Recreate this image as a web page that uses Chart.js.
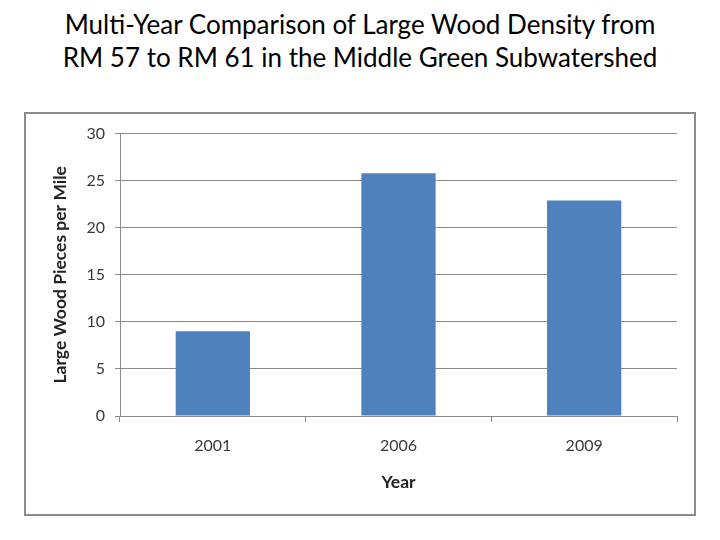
<!DOCTYPE html>
<html>
<head>
<meta charset="utf-8">
<script src="https://cdn.jsdelivr.net/npm/chart.js@4"></script>
<style>
  html, body { margin: 0; padding: 0; background: #fff; }
  body { width: 720px; height: 540px; position: relative; overflow: hidden; }
  #title { position: absolute; left: 0; top: 8px; width: 720px; text-align: center;
           font-family: Lato, "Open Sans", sans-serif; font-size: 26px; line-height: 33px; color: #000; }
  #frame { position: absolute; left: 24px; top: 112px; width: 668px; height: 400px;
           border: 2px solid #8c8c8c; background: #fff; }
  #frame canvas { display: block; }
</style>
</head>
<body>
<div id="title">Multi-Year Comparison of Large Wood Density from<br>RM 57 to RM 61 in the Middle Green Subwatershed</div>
<div id="frame"><canvas id="c" width="668" height="400"></canvas></div>
<script>
const categories = ["2001", "2006", "2009"];
const woodDensity = [9.0, 25.8, 22.9];
const yTicks = [0, 5, 10, 15, 20, 25, 30];
const xAxisTitle = "Year";
const yAxisTitle = "Large Wood Pieces per Mile";

const gridColor = "#8a8a8a";
const tickFont = { family: "Lato, 'Open Sans', sans-serif", size: 16 };
const titleFont = { family: "Lato, 'Open Sans', sans-serif", size: 17.5, weight: "bold" };

new Chart(document.getElementById("c"), {
  type: "bar",
  data: {
    labels: categories,
    datasets: [{
      data: woodDensity,
      backgroundColor: "#4f81bd",
      borderWidth: 0,
      barPercentage: 0.4,
      categoryPercentage: 1.0
    }]
  },
  options: {
    responsive: false,
    animation: false,
    devicePixelRatio: 1,
    layout: { padding: { left: 0, right: 17, top: 19, bottom: 0 } },
    plugins: { legend: { display: false }, tooltip: { enabled: false }, title: { display: false } },
    scales: {
      x: {
        grid: { display: true, drawOnChartArea: false, drawTicks: true, tickLength: 6, color: gridColor, offset: true },
        border: { display: true, color: gridColor, width: 1 },
        ticks: { font: tickFont, color: "#3a3a3a", padding: 14, maxRotation: 0 },
        title: { display: true, text: xAxisTitle, font: titleFont, color: "#222", padding: { top: 0, bottom: 21 } },
        afterFit: (s) => { s.height = 98; }
      },
      y: {
        min: 0, max: 30,
        afterBuildTicks: (s) => { s.ticks = yTicks.map(v => ({ value: v })); },
        grid: { color: gridColor, tickLength: 5, drawTicks: true },
        border: { display: true, color: gridColor, width: 1 },
        ticks: { font: tickFont, color: "#3a3a3a", padding: 10 },
        title: { display: true, text: yAxisTitle, font: titleFont, color: "#222", padding: { top: 24, bottom: 0 } },
        afterFit: (s) => { s.width = 94; }
      }
    }
  }
});
</script>
</body>
</html>
